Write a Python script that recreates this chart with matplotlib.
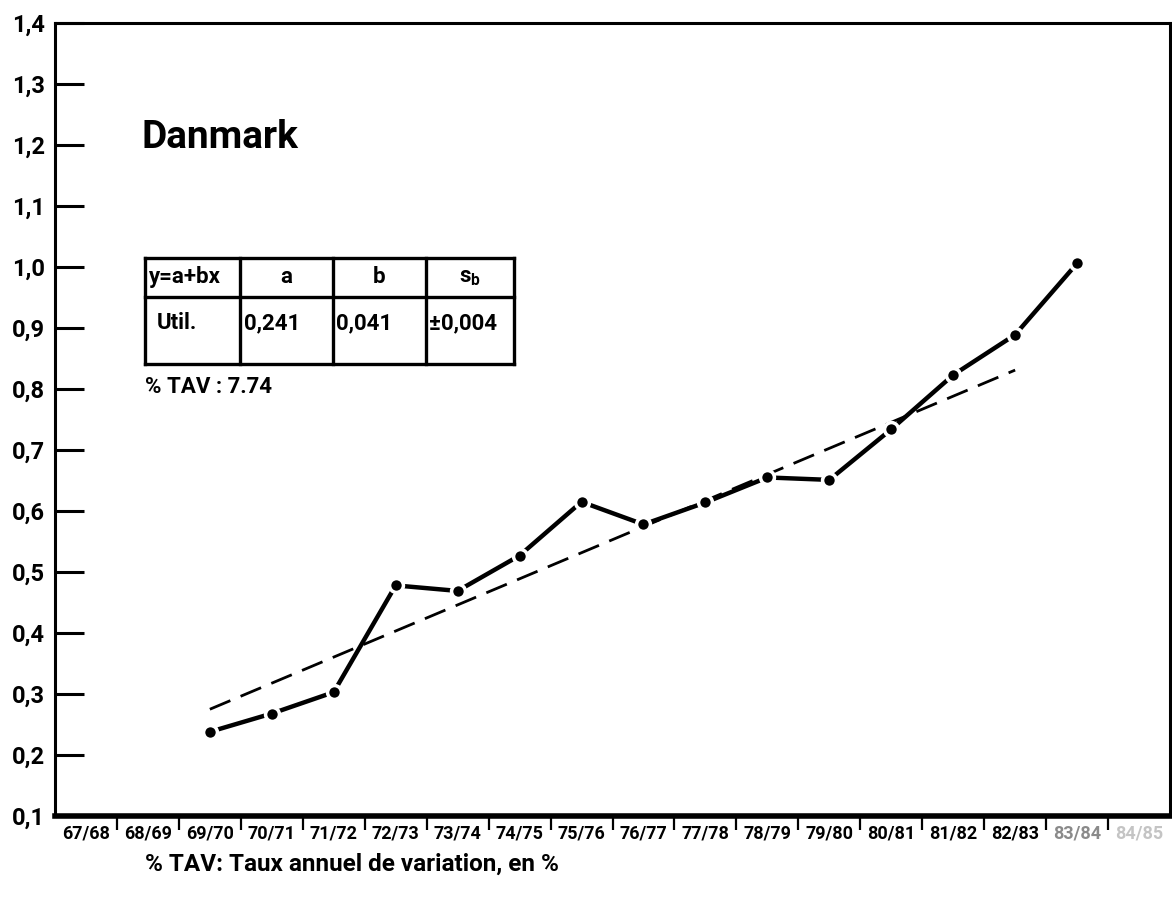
import matplotlib
matplotlib.use("Agg")
import matplotlib.pyplot as plt
from matplotlib.ticker import FixedLocator
from matplotlib.lines import Line2D

plt.rcParams['font.family'] = ['Roboto', 'DejaVu Sans']

# ---- data ----
categories = ['67/68', '68/69', '69/70', '70/71', '71/72', '72/73', '73/74',
              '74/75', '75/76', '76/77', '77/78', '78/79', '79/80', '80/81',
              '81/82', '82/83', '83/84', '84/85']
series_cats = ['69/70', '70/71', '71/72', '72/73', '73/74', '74/75', '75/76',
               '76/77', '77/78', '78/79', '79/80', '80/81', '81/82', '82/83', '83/84']
series_vals = [0.238, 0.268, 0.303, 0.478, 0.469, 0.527, 0.615,
               0.578, 0.614, 0.655, 0.651, 0.734, 0.823, 0.889, 1.006]
trend_cats = ['69/70', '82/83']
trend_vals = [0.275, 0.831]
ytick_vals = [0.1, 0.2, 0.3, 0.4, 0.5, 0.6, 0.7, 0.8, 0.9, 1.0, 1.1, 1.2, 1.3, 1.4]
ytick_labels = ['0,1', '0,2', '0,3', '0,4', '0,5', '0,6', '0,7', '0,8', '0,9',
                '1,0', '1,1', '1,2', '1,3', '1,4']
table_header = ['y=a+bx', 'a', 'b', 's$_\\mathregular{b}$']
table_row = ['Util.', '0,241', '0,041', '±0,004']

W, H = 1172, 899
fig = plt.figure(figsize=(W / 100, H / 100), dpi=100)
fig.patch.set_facecolor('white')
ax = fig.add_axes([55 / W, (H - 816) / H, (1170 - 55) / W, (816 - 23) / H])

idx = {c: i for i, c in enumerate(categories)}
sx = [idx[c] for c in series_cats]
tx = [idx[c] for c in trend_cats]

ax.plot(tx, trend_vals, color='black', lw=2.0, dashes=(8, 4),
        dash_capstyle='butt', zorder=2)
ax.plot(sx, series_vals, color='black', lw=3.2, marker='o', ms=10,
        mfc='black', mec='white', mew=2.5, zorder=3, solid_capstyle='round')

ax.set_xlim(-0.5, len(categories) - 0.5)
ax.set_ylim(0.1, 1.4)

# y ticks inward
ax.set_yticks(ytick_vals)
ax.set_yticklabels(ytick_labels, fontsize=17, fontweight='bold')
ax.tick_params(axis='y', direction='in', length=21, width=2.2, pad=7)

# x: ticks at category boundaries, labels centered in intervals
ax.xaxis.set_major_locator(FixedLocator(list(range(len(categories)))))
ax.set_xticklabels(categories, fontsize=13, fontweight='bold')
ax.tick_params(axis='x', which='major', length=0, pad=6)
ax.xaxis.set_minor_locator(FixedLocator([i + 0.5 for i in range(len(categories) - 1)]))
ax.tick_params(axis='x', which='minor', direction='out', length=10, width=1.6)
for lbl, c in zip(ax.get_xticklabels(), categories):
    if c == '83/84':
        lbl.set_color('#8a8a8a')
    elif c == '84/85':
        lbl.set_color('#c4c4c4')

for s in ['left', 'top', 'right']:
    ax.spines[s].set_linewidth(2.2)
ax.spines['bottom'].set_linewidth(4.0)

# title
fig.text(141 / W, (H - 137) / H, 'Danmark', fontsize=28, fontweight='bold',
         ha='left', va='center')

# table
tl, tr, tt, tm, tb = 145, 514, 258, 297, 364
cols = [145, 240, 333, 426, 514]
def hline(y, x0, x1):
    fig.add_artist(Line2D([x0 / W, x1 / W], [(H - y) / H, (H - y) / H], color='black', lw=2.4))
def vline(x, y0, y1):
    fig.add_artist(Line2D([x / W, x / W], [(H - y0) / H, (H - y1) / H], color='black', lw=2.4))
for y in (tt, tm, tb):
    hline(y, tl, tr)
for x in cols:
    vline(x, tt, tb)

hdr_pos = [(149, 'left'), (286, 'center'), (379, 'center'), (470, 'center')]
for (x, ha), t in zip(hdr_pos, table_header):
    fig.text(x / W, (H - 277) / H, t, ha=ha, va='center', fontsize=16, fontweight='bold')
row_pos = [(157, 'left'), (244, 'left'), (336, 'left'), (429, 'left')]
for (x, ha), t in zip(row_pos, table_row):
    fig.text(x / W, (H - 323) / H, t, ha=ha, va='center', fontsize=16, fontweight='bold')

fig.text(145 / W, (H - 387) / H, '% TAV : 7.74', ha='left', va='center',
         fontsize=16, fontweight='bold')

fig.text(145 / W, (H - 864) / H, '% TAV: Taux annuel de variation, en %', ha='left',
         va='center', fontsize=17.5, fontweight='bold')

fig.savefig('out.png', dpi=100, facecolor='white')
